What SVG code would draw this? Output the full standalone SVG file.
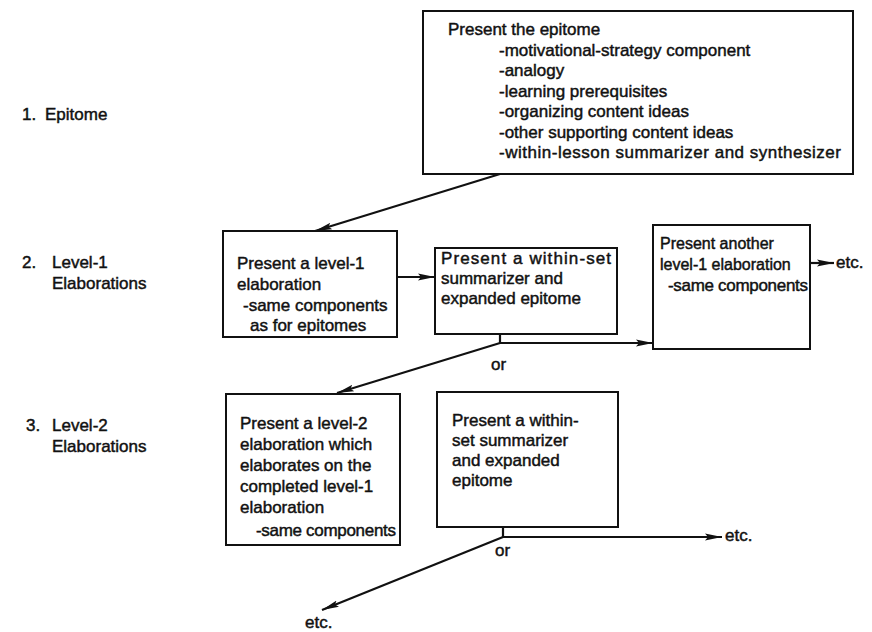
<svg xmlns="http://www.w3.org/2000/svg" width="872" height="632" viewBox="0 0 872 632">
<defs>
<style>
text{font-family:"Liberation Sans",Arial,sans-serif;font-size:17px;fill:#111;stroke:#111;stroke-width:0.45}
.sm{font-size:16px}
.box{fill:#fff;stroke:#111;stroke-width:2}
.con{fill:none;stroke:#111;stroke-width:2.2}
</style>
<marker id="ah" markerUnits="userSpaceOnUse" markerWidth="18" markerHeight="8" refX="17" refY="4" orient="auto">
<path d="M0,0.6 L17,4 L0,7.4 L3,4 z" fill="#111"/>
</marker>
</defs>
<rect width="872" height="632" fill="#fff"/>

<g id="labels">
<text x="22" y="120">1.</text><text x="45" y="120">Epitome</text>
<text x="22" y="268">2.</text><text x="52" y="268">Level-1</text>
<text x="52" y="289">Elaborations</text>
<text x="26" y="431">3.</text><text x="52" y="431">Level-2</text>
<text x="52" y="452">Elaborations</text>
</g>

<g id="connectors">
<line class="con" x1="500" y1="174" x2="315" y2="231" marker-end="url(#ah)"/>
<line class="con" x1="397" y1="277" x2="435" y2="277" marker-end="url(#ah)"/>
<polyline class="con" points="500,334 500,343 653,343" marker-end="url(#ah)"/>
<line class="con" x1="500" y1="343" x2="337" y2="393" marker-end="url(#ah)"/>
<line class="con" x1="810" y1="263" x2="834" y2="263" marker-end="url(#ah)"/>
<polyline class="con" points="503,527 503,537 722,537" marker-end="url(#ah)"/>
<line class="con" x1="503" y1="537" x2="322" y2="610" marker-end="url(#ah)"/>
</g>

<g id="epitome">
<rect class="box" x="423" y="11" width="430" height="163"/>
<text x="448" y="35">Present the epitome</text>
<text x="499" y="55.5">-motivational-strategy component</text>
<text x="499" y="76">-analogy</text>
<text x="499" y="96.5">-learning prerequisites</text>
<text x="499" y="117">-organizing content ideas</text>
<text x="499" y="137.5">-other supporting content ideas</text>
<text x="499" y="158" textLength="342" lengthAdjust="spacing">-within-lesson summarizer and synthesizer</text>
</g>

<g id="level1-elaboration">
<rect class="box" x="223" y="231" width="174" height="106"/>
<text x="237" y="269">Present a level-1</text>
<text x="237" y="290">elaboration</text>
<text x="243" y="311">-same components</text>
<text x="250" y="331">as for epitomes</text>
</g>

<g id="level1-summarizer">
<rect class="box" x="435" y="248" width="182" height="86"/>
<text x="441" y="264" textLength="170" lengthAdjust="spacing">Present a within-set</text>
<text x="441" y="284">summarizer and</text>
<text x="441" y="304">expanded epitome</text>
</g>

<g id="level1-another">
<rect class="box" x="653" y="225" width="157" height="124"/>
<text class="sm" x="660" y="249">Present another</text>
<text class="sm" x="660" y="270">level-1 elaboration</text>
<text x="668" y="291" textLength="140">-same components</text>
</g>

<g id="level1-etc"><text x="836" y="268">etc.</text></g>
<g id="or1"><text x="491" y="370">or</text></g>

<g id="level2-elaboration">
<rect class="box" x="226" y="394" width="174" height="151"/>
<text x="240" y="429">Present a level-2</text>
<text x="240" y="450">elaboration which</text>
<text x="240" y="471">elaborates on the</text>
<text x="240" y="492">completed level-1</text>
<text x="240" y="513">elaboration</text>
<text x="256" y="536" textLength="140">-same components</text>
</g>

<g id="level2-summarizer">
<rect class="box" x="437" y="392" width="181" height="135"/>
<text x="452" y="426">Present a within-</text>
<text x="452" y="446">set summarizer</text>
<text x="452" y="466">and expanded</text>
<text x="452" y="486">epitome</text>
</g>

<g id="level2-etc-right"><text x="725" y="541">etc.</text></g>
<g id="or2"><text x="495" y="556">or</text></g>
<g id="level2-etc-down"><text x="305" y="628">etc.</text></g>
</svg>
